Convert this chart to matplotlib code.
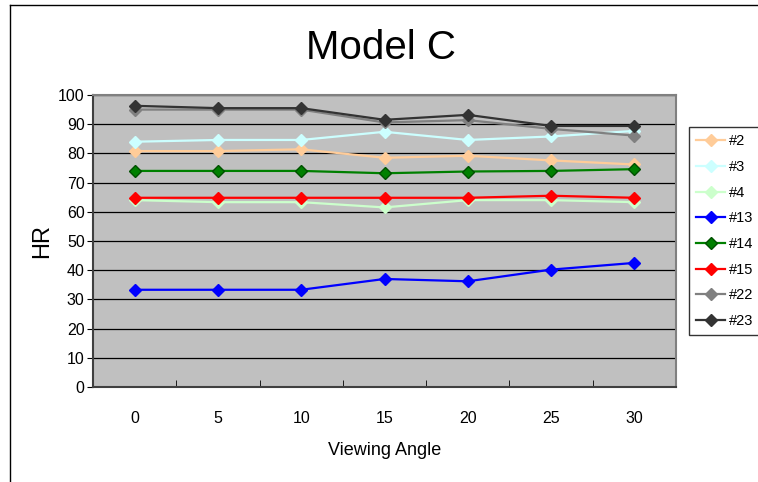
import matplotlib.pyplot as plt
from matplotlib.lines import Line2D

# viewing angle categories and hit rates per series
angles = ['0', '5', '10', '15', '20', '25', '30']
series_names = ['#2', '#3', '#4', '#13', '#14', '#15', '#22', '#23']
hr_2 = [80.8, 80.8, 81.4, 78.5, 79.2, 77.6, 76.2]
hr_3 = [84.0, 84.6, 84.6, 87.4, 84.6, 85.8, 87.7]
hr_4 = [64.0, 63.3, 63.3, 61.5, 64.0, 64.0, 63.3]
hr_13 = [33.3, 33.3, 33.3, 37.0, 36.2, 40.2, 42.5]
hr_14 = [74.0, 74.0, 74.0, 73.2, 73.8, 74.0, 74.6]
hr_15 = [64.8, 64.8, 64.8, 64.8, 64.8, 65.5, 64.8]
hr_22 = [95.0, 95.0, 95.0, 90.6, 91.4, 88.4, 86.1]
hr_23 = [96.3, 95.5, 95.5, 91.5, 93.2, 89.4, 89.4]

colors = ['#FFCC99', '#CCFFFF', '#CCFFCC', '#0000FF', '#008000', '#FF0000', '#808080', '#333333']
edges = ['#FFCC99', '#CCFFFF', '#CCFFCC', '#0000FF', '#005000', '#FF0000', '#808080', '#333333']

plt.rcParams['font.family'] = ['Liberation Sans', 'DejaVu Sans']

fig = plt.figure(figsize=(7.58, 4.82), dpi=100)
ax = fig.add_axes([93 / 758, 1 - 387 / 482, 583 / 758, 292 / 482])
ax.set_facecolor('#C0C0C0')

x = list(range(len(angles)))
all_series = [hr_2, hr_3, hr_4, hr_13, hr_14, hr_15, hr_22, hr_23]
for name, vals, c, ec in zip(series_names, all_series, colors, edges):
    ax.plot(x, vals, color=c, lw=1.6, marker='D', ms=6, mfc=c, mec=ec,
            mew=1, label=name)

ax.set_xlim(-0.5, len(angles) - 0.5)
ax.set_ylim(0, 100)
ax.set_yticks(range(0, 101, 10))
ax.yaxis.grid(True, color='black', lw=0.9)
ax.set_axisbelow(True)
ax.set_xticks(x)
ax.set_xticklabels(angles, fontsize=11.5)
ax.set_xticks([i + 0.5 for i in x[:-1]], minor=True)
ax.tick_params(axis='x', which='major', length=0, pad=17)
ax.tick_params(axis='x', which='minor', direction='in', length=5, color='black')
ax.tick_params(axis='y', direction='out', length=4, labelsize=11.5, pad=2)
for side, col in [('left', '#404040'), ('bottom', '#404040'), ('top', '#808080'), ('right', '#808080')]:
    ax.spines[side].set_color(col)
    ax.spines[side].set_linewidth(1.5)

ax.set_xlabel('Viewing Angle', fontsize=13, labelpad=12)
ax.set_ylabel('HR', fontsize=17)
ax.yaxis.set_label_coords(-0.069, 0.5)
fig.text(0.502, 0.9, 'Model C', ha='center', va='center', fontsize=29)

leg = ax.legend(loc='upper left', bbox_to_anchor=(689 / 758, 1 - 127 / 482),
                bbox_transform=fig.transFigure, frameon=True, fancybox=False,
                prop={'size': 10.5}, handlelength=2.0, borderaxespad=0,
                labelspacing=0.8, borderpad=0.5, handletextpad=0.25)
leg.get_frame().set_edgecolor('black')
leg.get_frame().set_linewidth(1)

# outer chart frame
fig.add_artist(Line2D([10 / 758, 10 / 758], [0, 1 - 5 / 482], color='black', lw=1))
fig.add_artist(Line2D([10 / 758, 1], [1 - 5 / 482, 1 - 5 / 482], color='black', lw=1))

fig.savefig('out.png', dpi=100)
